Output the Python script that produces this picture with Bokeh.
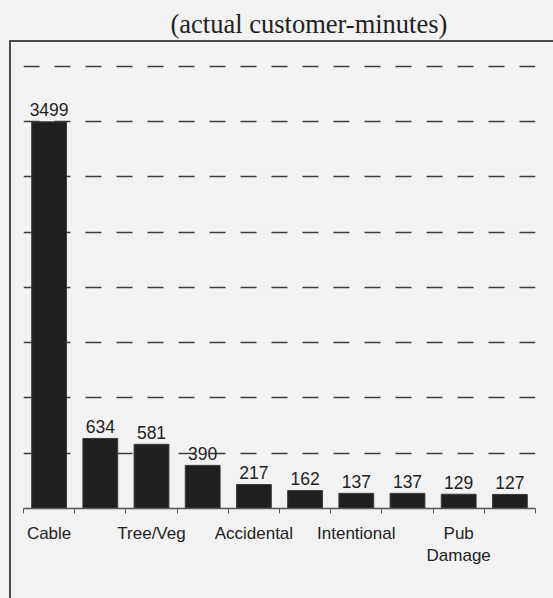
from bokeh.plotting import figure
from bokeh.models import Range1d, FixedTicker, ColumnDataSource, LinearAxis
from bokeh.core.properties import value
from bokeh.embed import file_html
from bokeh.resources import INLINE

title_text = "(actual customer-minutes)"
categories = ["Cable", "Equipment", "Tree/Veg", "Animal", "Accidental",
              "Unknown", "Intentional", "Weather", "Pub Damage", "Other"]
tick_labels = ["Cable", "", "Tree/Veg", "", "Accidental", "", "Intentional", "", "Pub\nDamage", ""]
minutes = [3499, 634, 581, 390, 217, 162, 137, 137, 129, 127]
grid_values = [500, 1000, 1500, 2000, 2500, 3000, 3500, 4000]

bg = "#f2f2f2"
ink = "#1f1f1f"
box_color = "#4a4a4a"

xs = list(range(len(categories)))
src = ColumnDataSource(dict(x=xs, top=minutes, lab=[str(v) for v in minutes], cat=categories))

p = figure(width=553, height=598, output_backend="svg", toolbar_location=None,
           x_range=Range1d(-0.5, len(categories) - 0.5), y_range=Range1d(0, 4018),
           min_border_left=23, min_border_right=18, min_border_top=64, min_border_bottom=90)
p.background_fill_color = None
p.border_fill_color = None
p.outline_line_color = None
# page-level frame box around the chart (left and top edges visible, as in the scan)
p.styles = {
    "background-color": bg,
    "background-image": f"linear-gradient({box_color}, {box_color}), linear-gradient({box_color}, {box_color})",
    "background-size": "2px 100%, 100% 2px",
    "background-position": "9px 40px, 9px 40px",
    "background-repeat": "no-repeat",
}

# bottom category axis
ax = p.below[0]
ax.ticker = FixedTicker(ticks=xs, minor_ticks=[i - 0.5 for i in range(len(categories) + 1)])
ax.major_label_overrides = {i: t for i, t in zip(xs, tick_labels)}
ax.major_tick_in = 0
ax.major_tick_out = 0
ax.minor_tick_in = 0
ax.minor_tick_out = 5
ax.minor_tick_line_color = "#555555"
ax.axis_line_color = "#555555"
ax.axis_line_width = 1.5
ax.major_label_standoff = 10
ax.major_label_text_font = "Liberation Sans"
ax.major_label_text_font_size = "17px"
ax.major_label_text_color = "#222222"

# invisible top axis used only as a spacer between the frame and the title
spacer = LinearAxis(ticker=FixedTicker(ticks=[0]), major_tick_out=22, major_tick_in=0,
                    minor_tick_out=0, minor_tick_in=0, axis_line_color=None,
                    major_label_standoff=0, major_tick_line_color=None,
                    minor_tick_line_color=None, major_label_overrides={0: ""},
                    major_label_text_font_size="1px", major_label_text_alpha=0)
p.add_layout(spacer, "above")

p.title.text = title_text
p.title.text_font = "Liberation Serif"
p.title.text_font_size = "26.5px"
p.title.text_font_style = "normal"
p.title.text_color = "#222222"
p.title.align = "left"
p.title.offset = 147
p.title.standoff = 8

p.vbar(x="x", top="top", width=0.68, source=src, fill_color=ink, line_color="#3a3a3a", line_width=1)
p.text(x="x", y="top", text="lab", source=src, text_align="center", text_baseline="alphabetic",
       y_offset=-12, text_font=value("Liberation Sans"), text_font_size="17.5px", text_color="#222222")

p.yaxis.visible = False
p.xgrid.visible = False
p.ygrid.ticker = FixedTicker(ticks=grid_values)
p.ygrid.grid_line_color = "#3c3c3c"
p.ygrid.grid_line_width = 1.3
p.ygrid.grid_line_dash = "16 15"

open("out.html", "w").write(file_html(p, INLINE))
